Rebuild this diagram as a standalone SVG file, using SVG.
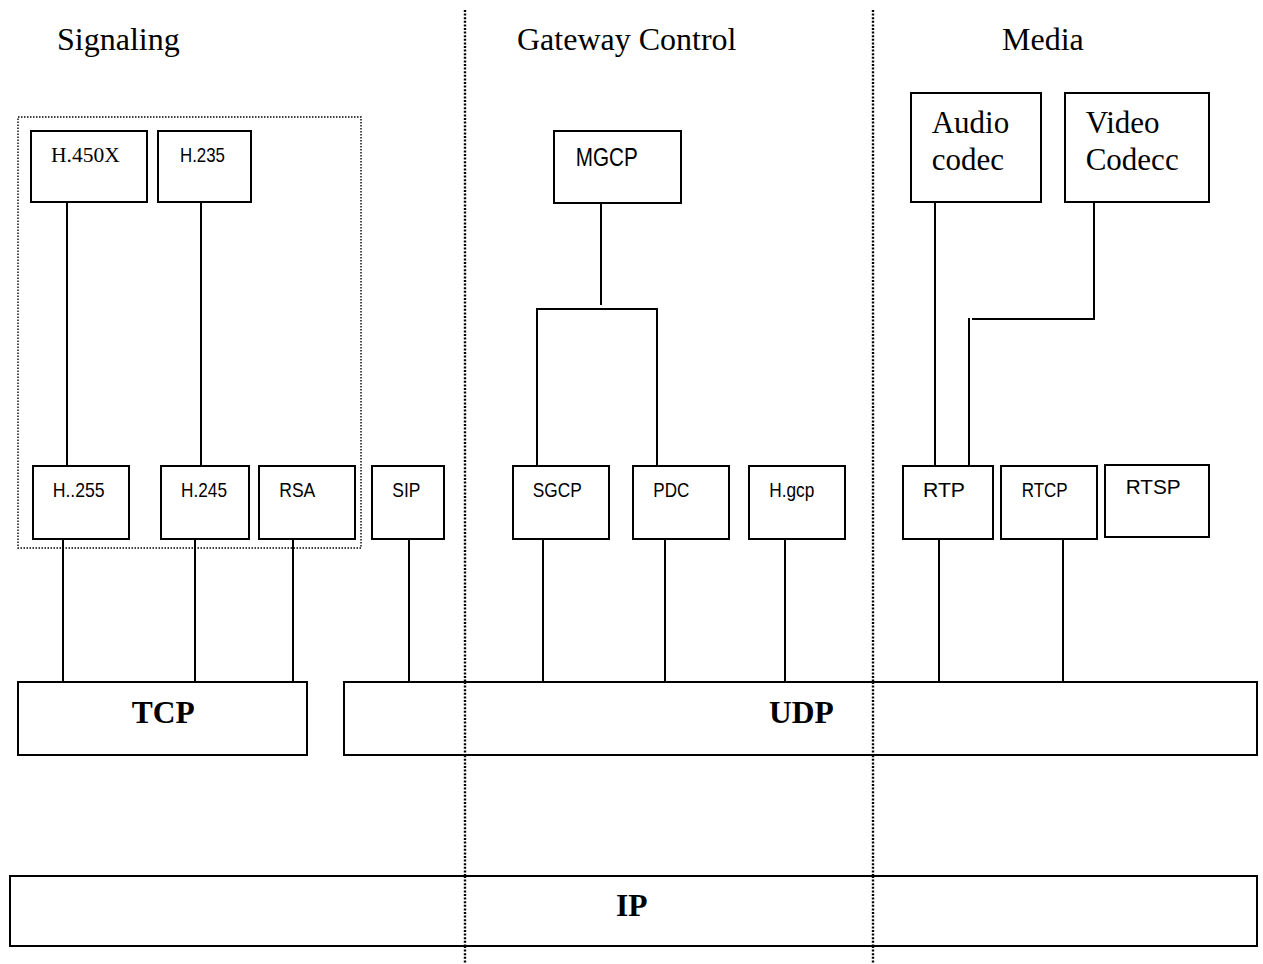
<svg xmlns="http://www.w3.org/2000/svg" width="1263" height="964" viewBox="0 0 1263 964">
<style>
.box{fill:#fff;stroke:#000;stroke-width:2}
.ln{fill:none;stroke:#000;stroke-width:2}
.dot{fill:none;stroke:#000;stroke-width:2.4;stroke-dasharray:2 1.6}
.dotbox{fill:none;stroke:#000;stroke-width:1.4;stroke-dasharray:1.5 1.5}
.serif{font-family:"Liberation Serif","Times New Roman",serif;fill:#000}
.sans{font-family:"Liberation Sans",Arial,sans-serif;font-size:21px;fill:#000}
.title{font-size:32px}
.big{font-size:31px}
.bold{font-size:31.5px;font-weight:bold}
</style>
<rect width="1263" height="964" fill="#fff"/>
<g id="dividers">
<line class="dot" x1="465" y1="10" x2="465" y2="964"/>
<line class="dot" x1="873" y1="10" x2="873" y2="964"/>
</g>
<g id="titles">
<text class="serif title" x="57" y="50">Signaling</text>
<text class="serif title" x="517" y="50">Gateway Control</text>
<text class="serif title" x="1002" y="50">Media</text>
</g>
<g id="h323group"><rect class="dotbox" x="18" y="117" width="343" height="431"/></g>
<g id="connectors">
<line class="ln" x1="67" y1="202" x2="67" y2="466"/>
<line class="ln" x1="201" y1="198" x2="201" y2="466"/>
<line class="ln" x1="63" y1="539" x2="63" y2="682"/>
<line class="ln" x1="195" y1="536" x2="195" y2="682"/>
<line class="ln" x1="293" y1="539" x2="293" y2="682"/>
<line class="ln" x1="409" y1="539" x2="409" y2="682"/>
<line class="ln" x1="601" y1="203" x2="601" y2="305"/>
<polyline class="ln" points="537,466 537,309 657,309 657,466"/>
<line class="ln" x1="543" y1="539" x2="543" y2="682"/>
<line class="ln" x1="665" y1="539" x2="665" y2="682"/>
<line class="ln" x1="785" y1="539" x2="785" y2="682"/>
<line class="ln" x1="935" y1="202" x2="935" y2="466"/>
<polyline class="ln" points="1094,202 1094,319 972,319"/>
<line class="ln" x1="969" y1="318" x2="969" y2="466"/>
<line class="ln" x1="939" y1="539" x2="939" y2="682"/>
<line class="ln" x1="1063" y1="539" x2="1063" y2="682"/>
</g>
<g id="h450x"><rect class="box" x="31" y="131" width="116" height="71"/><text class="serif" font-size="21.5" x="51" y="161.7">H.450X</text></g>
<g id="h235"><rect class="box" x="158" y="131" width="93" height="71"/><text class="sans" x="180" y="161.7" textLength="45" lengthAdjust="spacingAndGlyphs">H.235</text></g>
<g id="h255"><rect class="box" x="33" y="466" width="96" height="73"/><text class="sans" x="52.7" y="496.7" textLength="52" lengthAdjust="spacingAndGlyphs">H..255</text></g>
<g id="h245"><rect class="box" x="161" y="466" width="88" height="73"/><text class="sans" x="181" y="496.7" textLength="46" lengthAdjust="spacingAndGlyphs">H.245</text></g>
<g id="rsa"><rect class="box" x="259" y="466" width="96" height="73"/><text class="sans" x="279.3" y="496.7" textLength="36" lengthAdjust="spacingAndGlyphs">RSA</text></g>
<g id="sip"><rect class="box" x="372" y="466" width="72" height="73"/><text class="sans" x="392.3" y="496.7" textLength="28" lengthAdjust="spacingAndGlyphs">SIP</text></g>
<g id="mgcp"><rect class="box" x="554" y="131" width="127" height="72"/><text class="sans" style="font-size:26px" x="575.7" y="165.7" textLength="62" lengthAdjust="spacingAndGlyphs">MGCP</text></g>
<g id="sgcp"><rect class="box" x="513" y="466" width="96" height="73"/><text class="sans" x="532.7" y="496.7" textLength="49" lengthAdjust="spacingAndGlyphs">SGCP</text></g>
<g id="pdc"><rect class="box" x="633" y="466" width="96" height="73"/><text class="sans" x="653.3" y="496.7" textLength="36" lengthAdjust="spacingAndGlyphs">PDC</text></g>
<g id="hgcp"><rect class="box" x="749" y="466" width="96" height="73"/><text class="sans" x="769.3" y="496.7" textLength="45" lengthAdjust="spacingAndGlyphs">H.gcp</text></g>
<g id="audio"><rect class="box" x="911" y="93" width="130" height="109"/><text class="serif big" x="931.7" y="133.3">Audio</text><text class="serif big" x="931.7" y="170">codec</text></g>
<g id="video"><rect class="box" x="1065" y="93" width="144" height="109"/><text class="serif big" x="1085.7" y="133.3">Video</text><text class="serif big" x="1085.7" y="170">Codecc</text></g>
<g id="rtp"><rect class="box" x="903" y="466" width="90" height="73"/><text class="sans" x="923" y="496.7" textLength="42" lengthAdjust="spacingAndGlyphs">RTP</text></g>
<g id="rtcp"><rect class="box" x="1001" y="466" width="96" height="73"/><text class="sans" x="1021.7" y="496.7" textLength="46" lengthAdjust="spacingAndGlyphs">RTCP</text></g>
<g id="rtsp"><rect class="box" x="1105" y="465" width="104" height="72"/><text class="sans" x="1125.7" y="494.3" textLength="55" lengthAdjust="spacingAndGlyphs">RTSP</text></g>
<g id="tcp"><rect class="box" x="18" y="682" width="289" height="73"/><text class="serif bold" x="131.7" y="723.3">TCP</text></g>
<g id="udp"><rect class="box" x="344" y="682" width="913" height="73"/><text class="serif bold" x="769" y="723.3">UDP</text></g>
<g id="ip"><rect class="box" x="10" y="876" width="1247" height="70"/><text class="serif bold" x="616" y="916">IP</text></g>
<g id="dividers-over">
<line class="dot" x1="465" y1="682" x2="465" y2="755"/>
<line class="dot" x1="873" y1="682" x2="873" y2="755"/>
<line class="dot" x1="465" y1="876" x2="465" y2="946"/>
<line class="dot" x1="873" y1="876" x2="873" y2="946"/>
</g>
</svg>
